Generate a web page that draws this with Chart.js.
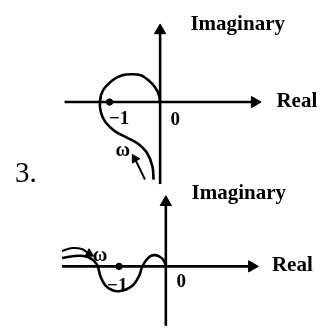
<!DOCTYPE html>
<html><head><meta charset="utf-8">
<script src="https://cdn.jsdelivr.net/npm/chart.js@4/dist/chart.umd.min.js"></script>
<style>html,body{margin:0;padding:0;background:#fff}canvas{display:block}</style>
</head><body>
<canvas id="c" width="325" height="335"></canvas>
<script>
// ---- Data (Real / Imaginary units) ----
// Upper Nyquist sketch: curve from low frequency (bottom) to origin
const topRe = [-0.13,-0.15,-0.25,-0.43,-0.62,-0.89,-1.08,-1.17,-1.19,-1.13,-0.94,-0.75,-0.57,-0.38,-0.23,-0.09,-0.02,0];
const topIm = [-1.53,-1.28,-1.02,-0.83,-0.72,-0.58,-0.40,-0.21,0.02,0.23,0.43,0.53,0.55,0.53,0.43,0.28,0.13,0];
// omega direction arrow (upper)
const topArrowRe = [-0.30,-0.40,-0.50];
const topArrowIm = [-1.53,-1.32,-1.12];
// Lower Nyquist sketch
const botRe = [-2.22,-1.96,-1.76,-1.59,-1.49,-1.45,-1.39,-1.29,-1.14,-1.00,-0.84,-0.69,-0.57,-0.51,-0.43,-0.33,-0.22,-0.12,-0.04,0];
const botIm = [0.18,0.22,0.22,0.16,0.06,-0.02,-0.24,-0.41,-0.51,-0.53,-0.49,-0.39,-0.20,-0.02,0.12,0.22,0.24,0.20,0.12,0];
// omega direction arrow (lower)
const botArrowRe = [-2.22,-2.00,-1.80,-1.64];
const botArrowIm = [0.33,0.39,0.37,0.27];
// Axis extents [start, arrow end]
const topRealAxis = [-1.89, 1.87];
const topImagAxis = [-1.62, 1.415];
const botRealAxis = [-2.22, 1.84];
const botImagAxis = [-1.27, 1.37];
// Critical point
const criticalPoint = [-1, 0];
// Text
const axisNames = ['Imaginary', 'Real'];
const tickLabels = ['\u22121', '0'];
const freqSymbol = '\u03c9';
const problemNumber = '3.';

const pts = (xs, ys) => xs.map((x, i) => ({x, y: ys[i]}));
const BLACK = '#000';

function axisSet(xs, ys, rot, xId, yId) {
  return {data: pts(xs, ys), xAxisID: xId, yAxisID: yId, showLine: true,
    borderColor: BLACK, backgroundColor: BLACK, borderWidth: 2.6,
    pointStyle: 'triangle', pointRadius: [0, 6.5], pointRotation: [0, rot],
    pointBorderWidth: 1, clip: false, tension: 0};
}
function curveSet(xs, ys, xId, yId, w) {
  return {data: pts(xs, ys), xAxisID: xId, yAxisID: yId, showLine: true,
    borderColor: BLACK, borderWidth: w, pointRadius: 0, tension: 0.35, clip: false};
}
function arrowSet(xs, ys, rot, xId, yId) {
  const r = xs.map((_, i) => i === xs.length - 1 ? 5 : 0);
  const ro = xs.map((_, i) => i === xs.length - 1 ? rot : 0);
  return {data: pts(xs, ys), xAxisID: xId, yAxisID: yId, showLine: true,
    borderColor: BLACK, backgroundColor: BLACK, borderWidth: 2,
    pointStyle: 'triangle', pointRadius: r, pointRotation: ro, pointBorderWidth: 1,
    tension: 0.35, clip: false};
}

const datasets = [
  axisSet(topRealAxis, [0, 0], 90, 'x', 'y'),
  axisSet([0, 0], topImagAxis, 0, 'x', 'y'),
  curveSet(topRe, topIm, 'x', 'y', 2.6),
  arrowSet(topArrowRe, topArrowIm, -30, 'x', 'y'),
  {data: [{x: criticalPoint[0], y: criticalPoint[1]}], xAxisID: 'x', yAxisID: 'y',
    pointRadius: 3.2, backgroundColor: BLACK, borderColor: BLACK, clip: false},
  axisSet(botRealAxis, [0, 0], 90, 'x2', 'y2'),
  axisSet([0, 0], botImagAxis, 0, 'x2', 'y2'),
  curveSet(botRe, botIm, 'x2', 'y2', 2.6),
  arrowSet(botArrowRe, botArrowIm, 119, 'x2', 'y2'),
  {data: [{x: criticalPoint[0], y: criticalPoint[1]}], xAxisID: 'x2', yAxisID: 'y2',
    pointRadius: 3.2, backgroundColor: BLACK, borderColor: BLACK, clip: false}
];

// text placement (in each panel's Real/Imag units)
const textItems = [
  {t: axisNames[0], x: 0.60, y: 1.43, ax: 'x', ay: 'y', font: 'bold 21px "Liberation Serif"', align: 'left'},
  {t: axisNames[1], x: 2.30, y: -0.094, ax: 'x', ay: 'y', font: 'bold 21px "Liberation Serif"', align: 'left'},
  {t: tickLabels[0], x: -0.81, y: -0.43, ax: 'x', ay: 'y', font: 'bold 19px "Liberation Serif"', align: 'center'},
  {t: tickLabels[1], x: 0.30, y: -0.45, ax: 'x', ay: 'y', font: 'bold 19px "Liberation Serif"', align: 'center'},
  {t: freqSymbol, x: -0.74, y: -1.06, ax: 'x', ay: 'y', font: 'bold 20px "Liberation Serif"', align: 'center'},
  {t: problemNumber, x: -2.87, y: -1.58, ax: 'x', ay: 'y', font: '29px "Liberation Serif"', align: 'left'},
  {t: axisNames[0], x: 0.55, y: 1.43, ax: 'x2', ay: 'y2', font: 'bold 21px "Liberation Serif"', align: 'left'},
  {t: axisNames[1], x: 2.27, y: -0.10, ax: 'x2', ay: 'y2', font: 'bold 21px "Liberation Serif"', align: 'left'},
  {t: tickLabels[0], x: -1.04, y: -0.53, ax: 'x2', ay: 'y2', font: 'bold 19px "Liberation Serif"', align: 'center'},
  {t: tickLabels[1], x: 0.33, y: -0.45, ax: 'x2', ay: 'y2', font: 'bold 19px "Liberation Serif"', align: 'center'},
  {t: freqSymbol, x: -1.41, y: 0.12, ax: 'x2', ay: 'y2', font: 'bold 20px "Liberation Serif"', align: 'center'}
];

const textPlugin = {
  id: 'sketchText',
  afterDatasetsDraw(chart) {
    const ctx = chart.ctx;
    ctx.save();
    ctx.fillStyle = BLACK;
    ctx.textBaseline = 'alphabetic';
    for (const it of textItems) {
      ctx.font = it.font;
      ctx.textAlign = it.align;
      ctx.fillText(it.t, chart.scales[it.ax].getPixelForValue(it.x), chart.scales[it.ay].getPixelForValue(it.y));
    }
    ctx.restore();
  }
};

const hidden = {display: false, type: 'linear'};
new Chart(document.getElementById('c'), {
  type: 'scatter',
  data: {datasets},
  options: {
    responsive: false, animation: false, devicePixelRatio: 1,
    layout: {padding: 0},
    plugins: {legend: {display: false}, tooltip: {enabled: false}},
    events: [],
    scales: {
      x:  {...hidden, min: -160/53, max: 165/53},
      y:  {...hidden, min: -(335-99)/53, max: 99/53},
      x2: {...hidden, axis: 'x', min: -166/49, max: 159/49},
      y2: {...hidden, axis: 'y', min: -(335-271)/49, max: 271/49}
    }
  },
  plugins: [textPlugin]
});
</script>
</body></html>
